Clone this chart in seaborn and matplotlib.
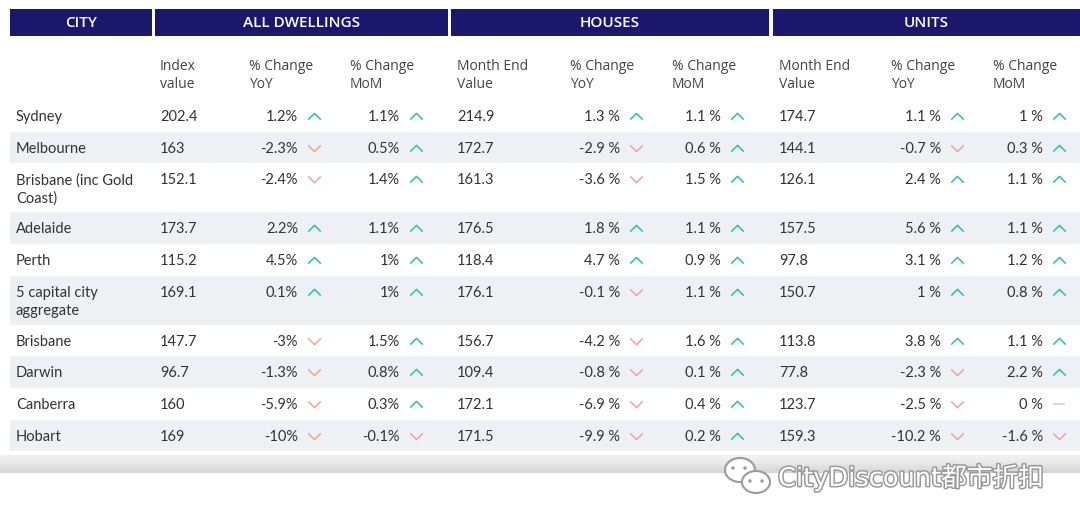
import numpy as np
import matplotlib.pyplot as plt
import matplotlib.patheffects as pe
from matplotlib.patches import Rectangle, Ellipse
import seaborn as sns

sns.set_theme(style="white")
plt.rcParams['font.family'] = ['Lato', 'DejaVu Sans']

# data
groups = ["CITY", "ALL DWELLINGS", "HOUSES", "UNITS"]
sub_headers = ["Index\nvalue", "% Change\nYoY", "% Change\nMoM",
               "Month End\nValue", "% Change\nYoY", "% Change\nMoM",
               "Month End\nValue", "% Change\nYoY", "% Change\nMoM"]
cities = ["Sydney", "Melbourne", "Brisbane (inc Gold\nCoast)", "Adelaide", "Perth",
          "5 capital city\naggregate", "Brisbane", "Darwin", "Canberra", "Hobart"]
all_index = [202.4, 163, 152.1, 173.7, 115.2, 169.1, 147.7, 96.7, 160, 169]
all_yoy = [1.2, -2.3, -2.4, 2.2, 4.5, 0.1, -3, -1.3, -5.9, -10]
all_mom = [1.1, 0.5, 1.4, 1.1, 1, 1, 1.5, 0.8, 0.3, -0.1]
houses_val = [214.9, 172.7, 161.3, 176.5, 118.4, 176.1, 156.7, 109.4, 172.1, 171.5]
houses_yoy = [1.3, -2.9, -3.6, 1.8, 4.7, -0.1, -4.2, -0.8, -6.9, -9.9]
houses_mom = [1.1, 0.6, 1.5, 1.1, 0.9, 1.1, 1.6, 0.1, 0.4, 0.2]
units_val = [174.7, 144.1, 126.1, 157.5, 97.8, 150.7, 113.8, 77.8, 123.7, 159.3]
units_yoy = [1.1, -0.7, 2.4, 5.6, 3.1, 1, 3.8, -2.3, -2.5, -10.2]
units_mom = [1, 0.3, 1.1, 1.1, 1.2, 0.8, 1.1, 2.2, 0, -1.6]
watermark = "CityDiscount都市折扣"

NAVY = "#1b186b"
BAND = "#edf1f4"
TXT = "#333333"
UP, DOWN, FLAT = "#2bbdb4", "#f4a09c", "#b8d4ea"

fig = plt.figure(figsize=(10.8, 5.27), dpi=100)
ax = fig.add_axes([0, 0, 1, 1])
ax.set_xlim(0, 1080)
ax.set_ylim(527, 0)
ax.axis("off")

# header bars
bars = [(10, 152), (155, 448), (451, 769), (773, 1080)]
for (x0, x1), g in zip(bars, groups):
    ax.add_patch(Rectangle((x0, 9), x1 - x0, 27, color=NAVY, lw=0))
    ax.text((x0 + x1) / 2, 23, g, color="white", fontsize=11, ha="center",
            va="center", family=["Open Sans", "DejaVu Sans"], fontweight="semibold")

# sub headers
sub_x = [160, 249, 350, 457, 570, 672, 779, 891, 993]
for x, s in zip(sub_x, sub_headers):
    for i, line in enumerate(s.split("\n")):
        ax.text(x, 67 + 18 * i, line, color="#444444", fontsize=10, ha="left",
                va="center", family=["Open Sans", "DejaVu Sans"])

# rows
top = 100
tops = []
for c in cities:
    n = c.count("\n") + 1
    h = 31.6 + 17.6 * (n - 1)
    tops.append((top, h))
    top += h

val_cols = [(160, all_index), (457, houses_val), (779, units_val)]
pct_cols = [(298, 314, all_yoy, ""), (400, 416, all_mom, ""),
            (620, 636, houses_yoy, " "), (721, 737, houses_mom, " "),
            (941, 957, units_yoy, " "), (1043, 1059, units_mom, " ")]

arrows = {"up": ([], []), "down": ([], []), "flat": ([], [])}
for r, (c, (t, h)) in enumerate(zip(cities, tops)):
    if r % 2 == 1:
        ax.add_patch(Rectangle((10, t), 1070, h, color=BAND, lw=0))
    yc = t + 17
    for i, line in enumerate(c.split("\n")):
        ax.text(16, yc + 18 * i, line, color=TXT, fontsize=10.5, va="center", ha="left")
    for x, vals in val_cols:
        ax.text(x, yc, f"{vals[r]:g}", color=TXT, fontsize=10.5, va="center", ha="left")
    for xr, xa, vals, sep in pct_cols:
        v = vals[r]
        ax.text(xr, yc, f"{v:g}{sep}%", color=TXT, fontsize=10.5, va="center", ha="right")
        key = "up" if v > 0 else ("down" if v < 0 else "flat")
        arrows[key][0].append(xa)
        arrows[key][1].append(yc - 1)

# chevrons (marker paths are in screen space, y up)
up_m = [(-1, -0.5), (0, 0.5), (1, -0.5)]
down_m = [(-1, 0.5), (0, -0.5), (1, 0.5)]
flat_m = [(-1, 0), (1, 0)]
for key, m, col in [("up", up_m, UP), ("down", down_m, DOWN), ("flat", flat_m, FLAT)]:
    xs, ys = arrows[key]
    ax.plot(xs, ys, ls="none", marker=m, markersize=9, mfc="none", mec=col, mew=1.1)

# shadow under table
grad = np.linspace(0, 1, 50).reshape(-1, 1) ** 1.5
ax.imshow(grad, extent=(0, 1080, 473, 455), cmap=sns.light_palette("#d4d4d4", as_cmap=True),
          aspect="auto", zorder=0.5)

# watermark
stroke = [pe.withStroke(linewidth=2.2, foreground="#9a9a9a")]
ax.text(778, 478, watermark, color="white", fontsize=18.5, va="center", ha="left",
        family=["DejaVu Sans", "Noto Sans CJK SC"], path_effects=stroke, zorder=5)
ax.add_patch(Ellipse((740, 470), 30, 24, fc="white", ec="#9a9a9a", lw=1.5, zorder=5))
ax.add_patch(Ellipse((756, 482), 28, 22, fc="white", ec="#9a9a9a", lw=1.5, zorder=6))
for dx, dy in [(733, 468), (745, 468), (750, 481), (762, 481)]:
    ax.add_patch(Ellipse((dx, dy), 3.5, 3.5, fc="#9a9a9a", ec="none", zorder=7))

fig.savefig("out.png", dpi=100)
